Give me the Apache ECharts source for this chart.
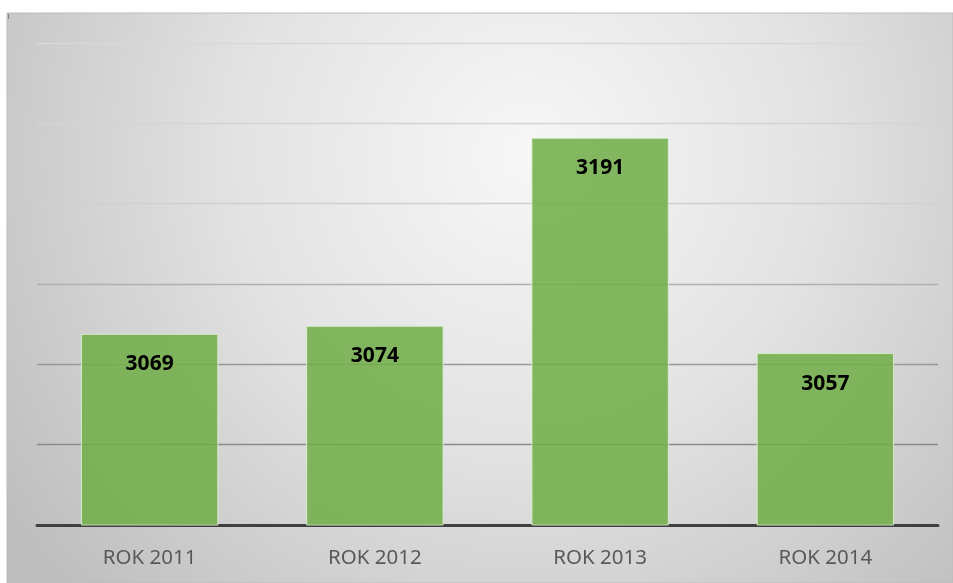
<!DOCTYPE html>
<html>
<head>
<meta charset="utf-8">
<script src="https://cdn.jsdelivr.net/npm/echarts@6/dist/echarts.min.js"></script>
<style>
html,body{margin:0;padding:0;background:#fff;}
#c{width:953px;height:583px;}
</style>
</head>
<body>
<div id="c"></div>
<script>
var categories = ['ROK 2011', 'ROK 2012', 'ROK 2013', 'ROK 2014'];
var values = [3069, 3074, 3191, 3057];
var yMin = 2950, yMax = 3250, yStep = 50;

var chart = echarts.init(document.getElementById('c'), null, {renderer: 'canvas'});
chart.setOption({
  animation: false,
  backgroundColor: '#ffffff',
  graphic: [
    {
      type: 'rect', z: -10, silent: true,
      shape: {x: 7, y: 13, width: 946, height: 570},
      style: {
        fill: new echarts.graphic.RadialGradient(0.55, 0.25, 1.12, [
          {offset: 0, color: '#f7f7f7'},
          {offset: 0.45, color: '#e3e3e3'},
          {offset: 1, color: '#bdbdbd'}
        ]),
        stroke: '#bcbcbc', lineWidth: 1
      }
    },
    {
      type: 'rect', z: -5, silent: true,
      shape: {x: 8, y: 14, width: 1, height: 5},
      style: {fill: '#7f7f7f'}
    }
  ],
  grid: {left: 37, right: 15, top: 43, bottom: 58, containLabel: false},
  xAxis: {
    type: 'category',
    data: categories,
    axisTick: {show: false},
    axisLine: {show: true, lineStyle: {color: '#404040', width: 3}},
    axisLabel: {color: '#595959', fontSize: 20.5, fontFamily: 'Noto Sans', margin: 23}
  },
  yAxis: {
    type: 'value',
    min: yMin, max: yMax, interval: yStep,
    axisLabel: {show: false},
    axisLine: {show: false},
    axisTick: {show: false},
    splitLine: {
      show: true,
      lineStyle: {
        width: 1.3,
        color: ['#8a8a8a', '#8a8a8a', '#999999', '#b0b0b0', '#d0d0d0', '#d4d4d4', '#d8d8d8']
      }
    }
  },
  series: [{
    type: 'bar',
    data: values,
    barWidth: '61%',
    itemStyle: {
      color: 'rgba(112,173,71,0.86)',
      borderColor: 'rgba(220,238,210,0.9)',
      borderWidth: 1
    },
    label: {
      show: true,
      position: 'insideTop',
      distance: 20,
      color: '#000000',
      fontSize: 21,
      fontWeight: 'bold',
      fontFamily: 'Noto Sans'
    }
  }]
});
</script>
</body>
</html>
